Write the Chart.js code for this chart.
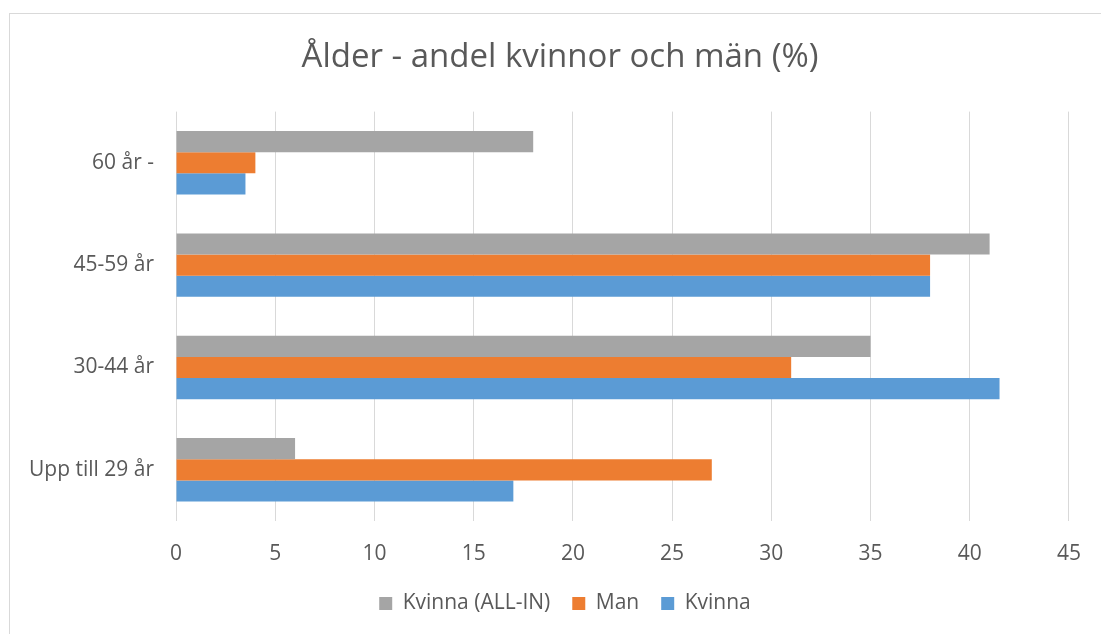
<!DOCTYPE html>
<html>
<head>
<meta charset="utf-8">
<script src="https://cdn.jsdelivr.net/npm/chart.js@4.4.0/dist/chart.umd.min.js"></script>
<style>
  html, body { margin: 0; padding: 0; background: #fff; overflow: hidden; }
  #frame { position: absolute; left: 9px; top: 13px; width: 1100px; height: 640px; border: 1px solid #D9D9D9; box-sizing: border-box; }
  #wrap { position: absolute; left: 0; top: 0; width: 1101px; height: 634px; }
</style>
</head>
<body>
<div id="frame"></div>
<div id="wrap"><canvas id="c" width="1101" height="634"></canvas></div>
<script>
const categories = ["60 år -", "45-59 år", "30-44 år", "Upp till 29 år"];
const seriesNames = ["Kvinna (ALL-IN)", "Man", "Kvinna"];
const kvinnaAllIn = [18, 41, 35, 6];
const man = [4, 38, 31, 27];
const kvinna = [3.5, 38, 41.5, 17];
const xTicks = [0, 5, 10, 15, 20, 25, 30, 35, 40, 45];
const colors = ["#A5A5A5", "#ED7D31", "#5B9BD5"];

const FONT = "'Open Sans', 'DejaVu Sans', sans-serif";
const TXT = "#595959";

const shiftBoxes = {
  id: "shiftBoxes",
  afterLayout(chart) {
    const lg = chart.legend;
    if (lg) { lg.left += 30; lg.right += 30; }
    const tb = chart.titleBlock;
    if (tb) { tb.left += 25; tb.right += 25; }
  }
};

new Chart(document.getElementById("c"), {
  type: "bar",
  data: {
    labels: categories,
    datasets: [
      { label: seriesNames[0], data: kvinnaAllIn, backgroundColor: colors[0] },
      { label: seriesNames[1], data: man, backgroundColor: colors[1] },
      { label: seriesNames[2], data: kvinna, backgroundColor: colors[2] }
    ]
  },
  plugins: [shiftBoxes],
  options: {
    indexAxis: "y",
    responsive: false,
    animation: false,
    devicePixelRatio: 1,
    categoryPercentage: 0.62,
    barPercentage: 1.0,
    layout: { padding: { left: 0, right: 31, top: 0, bottom: 10 } },
    plugins: {
      tooltip: { enabled: false },
      title: {
        display: true,
        text: "Ålder - andel kvinnor och män (%)",
        color: TXT,
        font: { family: FONT, size: 33, weight: "normal" },
        padding: { top: 38, bottom: 34 }
      },
      legend: {
        position: "bottom",
        labels: {
          color: TXT,
          font: { family: FONT, size: 21 },
          boxWidth: 13,
          boxHeight: 13,
          padding: 22
        }
      }
    },
    scales: {
      x: {
        min: 0,
        max: 45,
        afterBuildTicks: (s) => { s.ticks = xTicks.map(v => ({ value: v })); },
        afterFit: (s) => { s.height = 50; },
        grid: { color: "#D9D9D9", lineWidth: 1, drawTicks: false },
        border: { display: false },
        ticks: { color: TXT, font: { family: FONT, size: 21 }, padding: 20 }
      },
      y: {
        afterFit: (s) => { s.width = 176; },
        grid: { display: false, drawTicks: false },
        border: { display: false },
        ticks: { color: TXT, font: { family: FONT, size: 21 }, padding: 22 }
      }
    }
  }
});
</script>
</body>
</html>
